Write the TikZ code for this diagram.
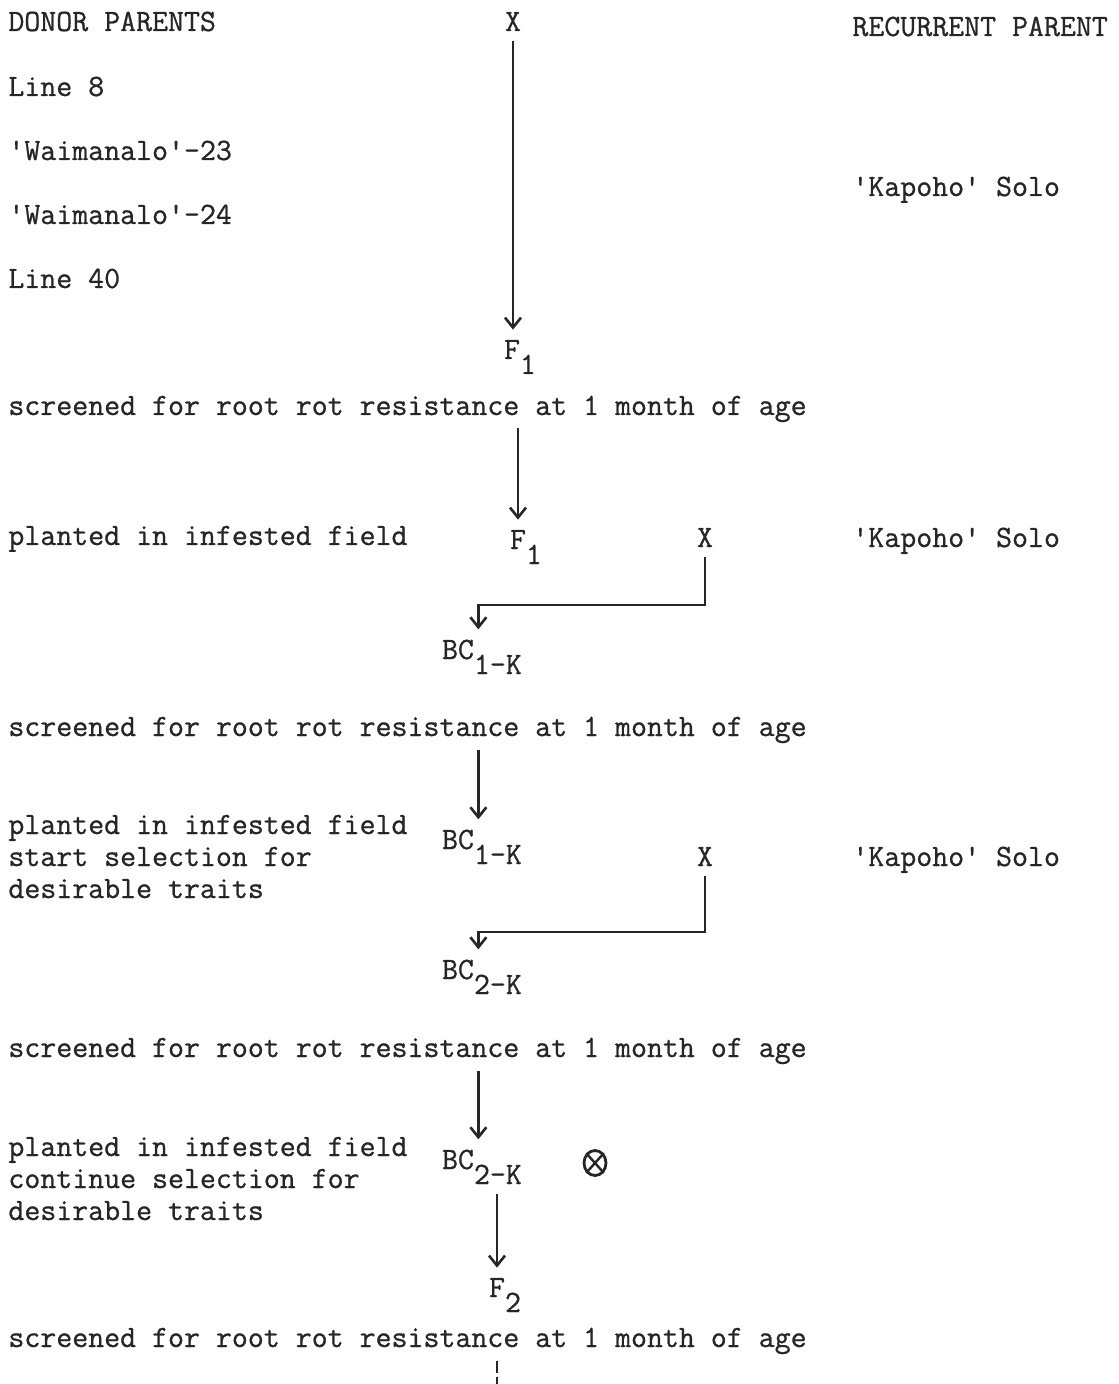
\documentclass[tikz,border=0pt]{standalone}
\usepackage{fontspec}
\setmonofont{Latin Modern Mono}[FakeBold=0.8]
\usetikzlibrary{arrows.meta,shapes.geometric}

\newcommand{\gen}[2]{#1\rlap{\raisebox{-7.5pt}{#2}}}

\begin{document}
\begin{tikzpicture}[x=0.5pt,y=-0.5pt,color=black!85,
  font=\ttfamily\fontsize{15.5}{16}\selectfont,
  txt/.style={anchor=base west,inner xsep=0pt,inner ysep=3pt},
  gen/.style={anchor=base,inner xsep=2pt,inner ysep=5pt},
  arr/.style={->,>={Straight Barb[length=5pt,width=8pt]},line width=1.3pt}]
\useasboundingbox (0,0) rectangle (1118,1384);
% headings and parents
\node[txt] (donor) at (8,31) {DONOR PARENTS};
\node[gen] (xa) at (513,31) {X};
\node[txt] (recur) at (852,36) {RECURRENT PARENT};
\node[txt] (l8) at (8,96) {Line 8};
\node[txt] (w23) at (8,160) {'Waimanalo'-23};
\node[txt] (kapa) at (852,196) {'Kapoho' Solo};
\node[txt] (w24) at (8,224) {'Waimanalo'-24};
\node[txt] (l40) at (8,288) {Line 40};
% F1
\node[gen] (fa) at (512,359) {\gen{F}{1}};
\node[txt] (scra) at (8,415) {screened for root rot resistance at 1 month of age};
\node[txt] (planta) at (8,545) {planted in infested field};
\node[gen] (fb) at (518,549) {\gen{F}{1}};
\node[gen] (xb) at (705,547) {X};
\node[txt] (kapb) at (852,547) {'Kapoho' Solo};
% BC1
\node[gen] (bca) at (458,659) {\gen{BC}{1-K}};
\node[txt] (scrb) at (8,736) {screened for root rot resistance at 1 month of age};
\foreach \t [count=\i] in {planted in infested field,start selection for,desirable traits}
  \node[txt] (plantb\i) at (8,802+32*\i) {\t};
\node[gen] (bcb) at (458,849) {\gen{BC}{1-K}};
\node[gen] (xc) at (705,866) {X};
\node[txt] (kapc) at (852,866) {'Kapoho' Solo};
% BC2
\node[gen] (bcc) at (458,979) {\gen{BC}{2-K}};
\node[txt] (scrc) at (8,1057) {screened for root rot resistance at 1 month of age};
\foreach \t [count=\i] in {planted in infested field,continue selection for,desirable traits}
  \node[txt] (plantc\i) at (8,1124+32*\i) {\t};
\node[gen] (bcd) at (458,1169) {\gen{BC}{2-K}};
\node[draw,ellipse,line width=1.4pt,minimum width=11pt,minimum height=12.5pt,inner sep=0pt] (self) at (595,1163) {};
\draw[line width=1.2pt] (self.north west) -- (self.south east) (self.north east) -- (self.south west);
% F2
\node[gen] (fc) at (497,1297) {\gen{F}{2}};
\node[txt] (scrd) at (8,1347) {screened for root rot resistance at 1 month of age};
% connectors
\coordinate (hka) at (705,605);
\coordinate (hkb) at (705,932);
\coordinate (cut) at (497,1384);
\draw[arr] (xa.south) -- (xa.south |- fa.north);
\draw[arr] (scra.south -| fb.north) -- (fb.north);
\draw[arr] (xb.south) -- (hka) -| (bca.north east);
\draw[arr] (scrb.south -| bcb.north east) -- (bcb.north east);
\draw[arr] (xc.south) -- (hkb) -| (bcc.north east);
\draw[arr] (scrc.south -| bcd.north east) -- (bcd.north east);
\draw[arr] (bcd.south -| fc.north) -- (fc.north);
\draw[line width=1.3pt,dash pattern=on 6pt off 2pt] (scrd.south -| fc.north) -- (cut);
\end{tikzpicture}
\end{document}
